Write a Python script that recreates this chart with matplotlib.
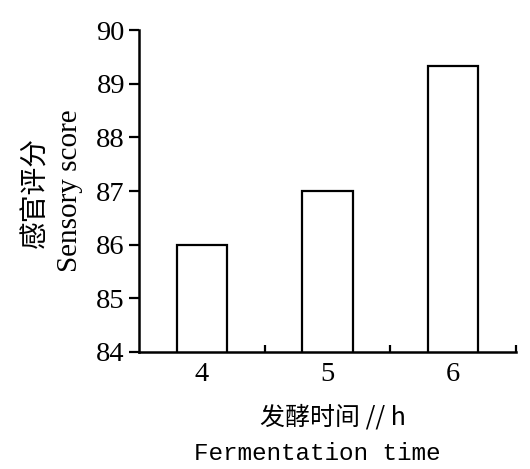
import matplotlib
matplotlib.use("Agg")
import matplotlib.pyplot as plt
import numpy as np

# data
times = ["4", "5", "6"]
scores = [86.0, 87.0, 89.33]
yticks = [84, 85, 86, 87, 88, 89, 90]

plt.rcParams['font.family'] = ['Liberation Serif', 'Noto Sans CJK SC']

fig = plt.figure(figsize=(5.30, 4.69), dpi=100)
ax = fig.add_axes([0.262, 0.2495, 0.712, 0.6865])

x = np.arange(len(times))
ax.bar(x, scores, width=0.4, bottom=0, color='white', edgecolor='black', linewidth=1.6, zorder=2)

ax.set_xlim(-0.5, 2.5)
ax.set_ylim(84, 90)
ax.set_yticks(yticks)
ax.set_yticklabels([str(t) for t in yticks], fontsize=20.5)
ax.set_xticks(x)
ax.set_xticklabels(times, fontsize=20.5)
ax.tick_params(axis='x', length=0, pad=7)
ax.set_xticks([0.5, 1.5, 2.5], minor=True)
ax.tick_params(axis='x', which='minor', direction='in', length=5, width=1.6)
ax.tick_params(axis='y', direction='out', length=7, width=1.6, pad=3)

for s in ['top', 'right']:
    ax.spines[s].set_visible(False)
for s in ['left', 'bottom']:
    ax.spines[s].set_linewidth(1.8)

# axis titles (Chinese + English)
fig.text(0.066, 0.59, "感官评分", rotation=90, ha='center', va='center',
         fontsize=20, family=['Noto Sans CJK SC'])
fig.text(0.132, 0.593, "Sensory score", rotation=90, ha='center', va='center', fontsize=21)
fig.text(0.628, 0.109, "发酵时间 // h", ha='center', va='center', fontsize=18,
         family=['Noto Sans CJK SC', 'Liberation Serif'])
fig.text(0.598, 0.034, "Fermentation time", ha='center', va='center', fontsize=17.5,
         family=['Liberation Mono'])

fig.savefig("out.png", dpi=100)
